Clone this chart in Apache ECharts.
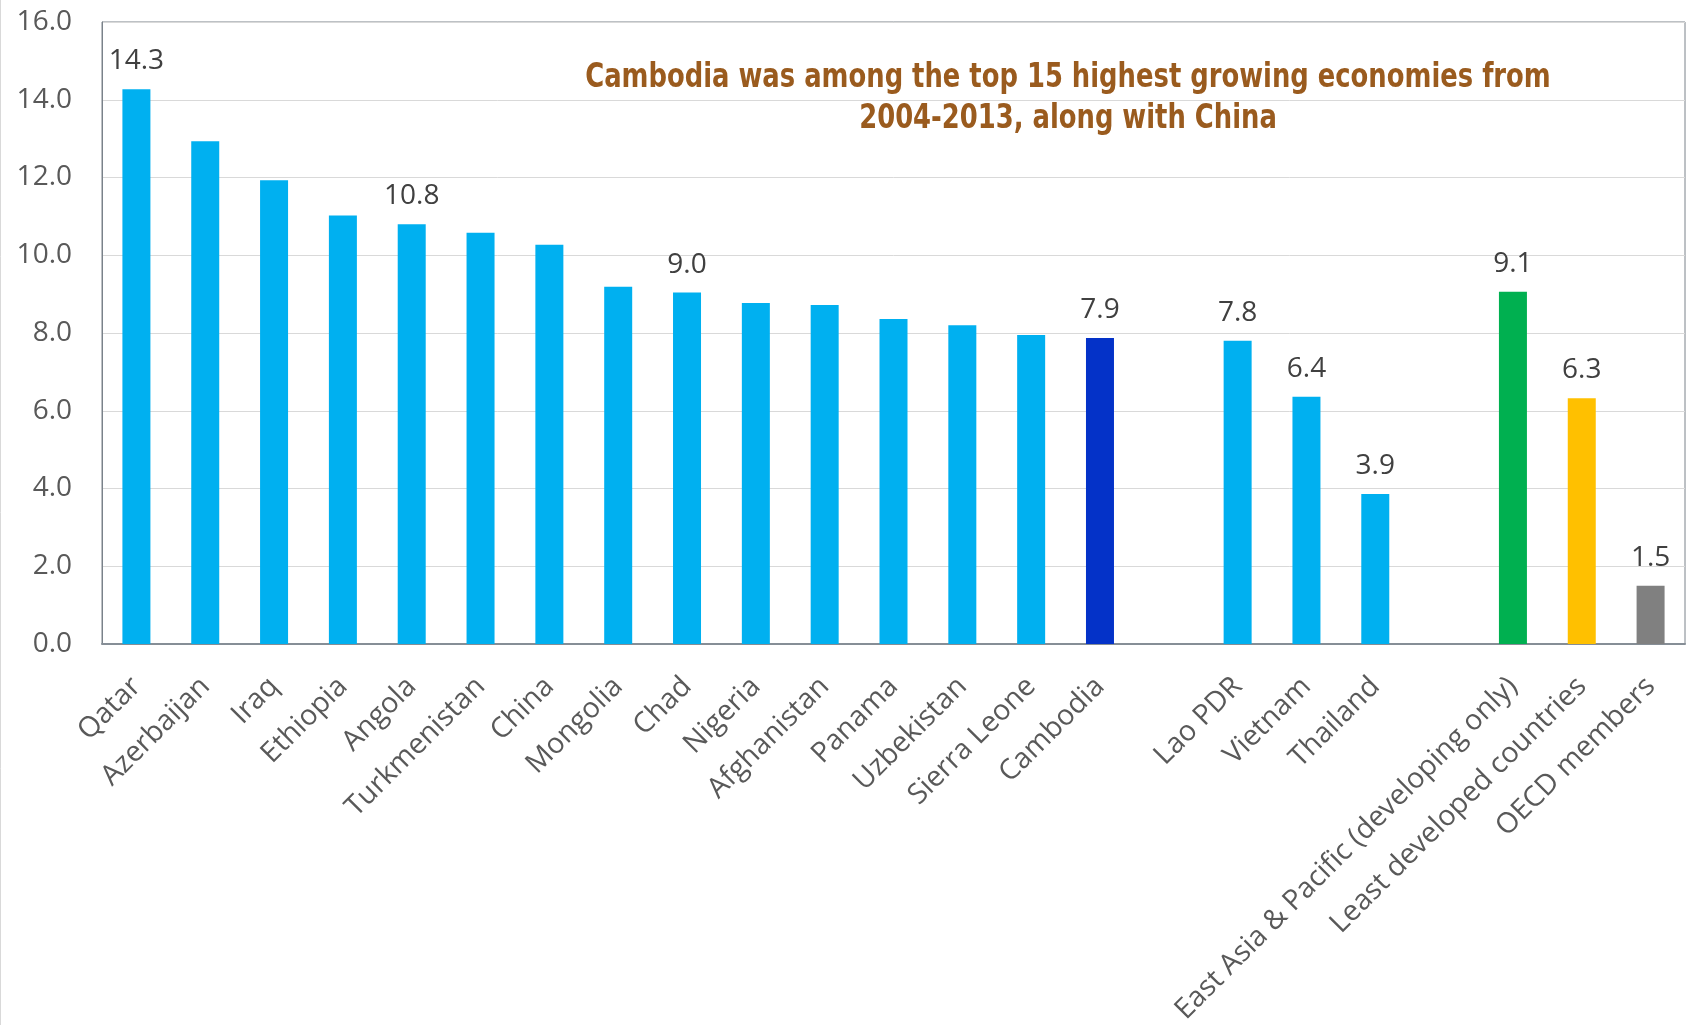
<!DOCTYPE html>
<html>
<head>
<meta charset="utf-8">
<script src="https://cdn.jsdelivr.net/npm/echarts@6/dist/echarts.min.js"></script>
<style>
html,body{margin:0;padding:0;background:#fff;}
#chart{width:1691px;height:1025px;}
</style>
</head>
<body>
<div id="chart"></div>
<script>
// ---- data ----
const categories = ['Qatar','Azerbaijan','Iraq','Ethiopia','Angola','Turkmenistan','China','Mongolia','Chad','Nigeria','Afghanistan','Panama','Uzbekistan','Sierra Leone','Cambodia','','Lao PDR','Vietnam','Thailand','','East Asia & Pacific (developing only)','Least developed countries','OECD members'];
const values = [14.27,12.93,11.93,11.02,10.80,10.58,10.27,9.19,9.04,8.77,8.72,8.36,8.20,7.95,7.87,null,7.80,6.36,3.86,null,9.06,6.32,1.50];
const labeledCategories = ['Qatar','Angola','Chad','Cambodia','Lao PDR','Vietnam','Thailand','East Asia & Pacific (developing only)','Least developed countries','OECD members'];
const yTicks = [0,2,4,6,8,10,12,14,16];
const titleLines = ['Cambodia was among the top 15 highest growing economies from','2004-2013, along with China'];

// ---- styles ----
const baseColor = '#00B0F0';
const specialColors = {
  'Cambodia': '#0432C8',
  'East Asia & Pacific (developing only)': '#00B050',
  'Least developed countries': '#FFC000',
  'OECD members': '#808080'
};
const textFont = '"Open Sans", "Noto Sans", sans-serif';

const seriesData = categories.map((c, i) => ({
  value: values[i],
  itemStyle: { color: specialColors[c] || baseColor },
  label: { show: labeledCategories.includes(c) }
}));

const chart = echarts.init(document.getElementById('chart'), null, {renderer: 'canvas'});
chart.setOption({
  animation: false,
  backgroundColor: '#fff',
  grid: { left: 102, top: 22, right: 6, bottom: 381, show: true, borderColor: '#7a828a', borderWidth: 1, containLabel: false, outerBoundsMode: 'none' },
  xAxis: {
    type: 'category',
    data: categories,
    axisLine: { lineStyle: { color: '#868e96', width: 2 } },
    axisTick: { show: false },
    axisLabel: { rotate: 45, interval: 0, margin: 38, color: '#595959', fontSize: 28.5, fontFamily: textFont }
  },
  yAxis: {
    type: 'value',
    min: yTicks[0], max: yTicks[yTicks.length - 1], interval: yTicks[1] - yTicks[0],
    axisLine: { show: true, lineStyle: { color: '#7a828a' } },
    axisTick: { show: false },
    splitLine: { lineStyle: { color: '#d9d9d9', width: 1 } },
    axisLabel: { margin: 30, color: '#595959', fontSize: 28, fontFamily: textFont, formatter: v => v.toFixed(1) }
  },
  series: [{
    type: 'bar',
    data: seriesData,
    barWidth: 28,
    label: { position: 'top', distance: 14, color: '#404040', fontSize: 28, fontFamily: textFont, formatter: p => p.value.toFixed(1) }
  }],
  graphic: [
    { type: 'line', shape: { x1: 0.5, y1: 0, x2: 0.5, y2: 1025 }, style: { stroke: '#d9d9d9', lineWidth: 1 }, silent: true }
  ].concat(titleLines.map((t, i) => ({
    type: 'text',
    x: 1068, y: 78 + i * 41,
    scaleX: 0.87,
    style: { text: t, fill: '#9A5B1E', font: 'bold 33px "DejaVu Sans Condensed", "Liberation Sans Narrow", sans-serif', textAlign: 'center', textVerticalAlign: 'middle' }
  })))
});
</script>
</body>
</html>
